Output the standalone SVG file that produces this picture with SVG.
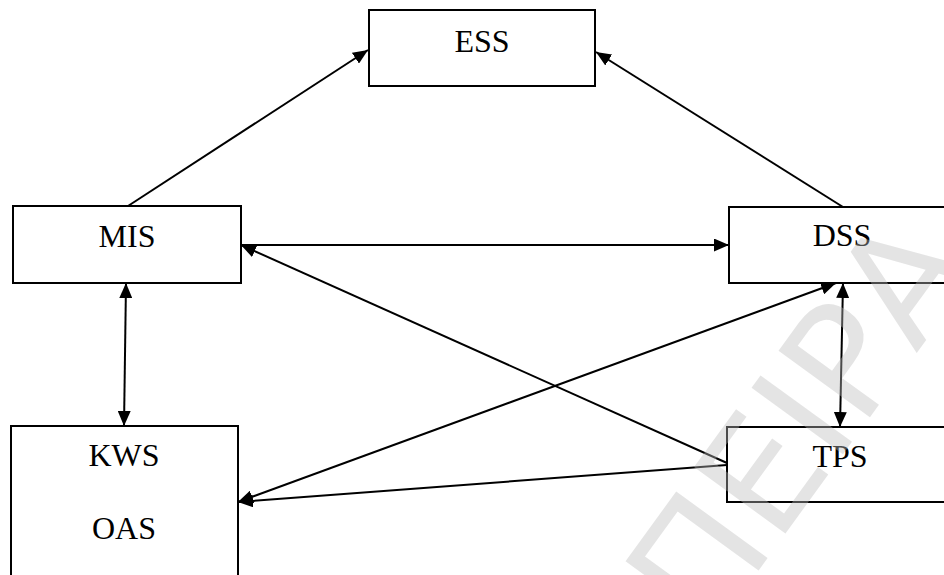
<svg xmlns="http://www.w3.org/2000/svg" width="944" height="575" viewBox="0 0 944 575">
<defs>
<marker id="arr" viewBox="0 0 15 13" refX="15" refY="6.5" markerWidth="15" markerHeight="13" markerUnits="userSpaceOnUse" orient="auto-start-reverse">
<path d="M0,0 L15,6.5 L0,13 z" fill="#000"/>
</marker>
<style>
.box{fill:#fff;stroke:#000;stroke-width:2}
.lbl{font-family:"Liberation Serif","Times New Roman",serif;font-size:32px;fill:#000;text-anchor:middle}
.c{fill:none;stroke:#000;stroke-width:2}
.wm{font-family:"DejaVu Sans",sans-serif;font-size:155px;fill:#bbbbbb;fill-opacity:0.4}
</style>
</defs>
<rect width="944" height="575" fill="#fff"/>
<g id="ESS"><rect class="box" x="369" y="10" width="226" height="76"/><text class="lbl" x="482" y="52">ESS</text></g>
<g id="MIS"><rect class="box" x="13" y="206" width="228" height="77"/><text class="lbl" x="127" y="247">MIS</text></g>
<g id="DSS"><rect class="box" x="729" y="207" width="230" height="76"/><text class="lbl" x="842" y="246">DSS</text></g>
<g id="KWS_OAS"><rect class="box" x="11" y="426" width="227" height="160"/><text class="lbl" x="124" y="466">KWS</text><text class="lbl" x="124" y="539">OAS</text></g>
<g id="TPS"><rect class="box" x="727" y="427" width="230" height="75"/><text class="lbl" x="840" y="467">TPS</text></g>
<g id="connectors">
<path class="c" d="M128,206 L368,50" marker-end="url(#arr)"/>
<path class="c" d="M843,207 L596,52" marker-end="url(#arr)"/>
<path class="c" d="M241,245 L729,245" marker-end="url(#arr)"/>
<path class="c" d="M727,463 L241,245" marker-end="url(#arr)"/>
<path class="c" d="M126,283 L124,426" marker-start="url(#arr)" marker-end="url(#arr)"/>
<path class="c" d="M843,283 L840,427" marker-start="url(#arr)" marker-end="url(#arr)"/>
<path class="c" d="M836,283 L238,502" marker-start="url(#arr)" marker-end="url(#arr)"/>
<path class="c" d="M727,465 L238,502" marker-end="url(#arr)"/>
</g>
<g id="watermark"><text class="wm" transform="translate(708,640) rotate(-54)">ΠΕΙΡΑ</text></g>
</svg>
